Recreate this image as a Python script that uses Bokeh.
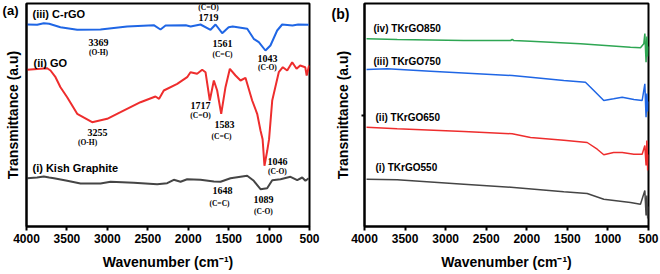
from bokeh.plotting import figure
from bokeh.layouts import row
from bokeh.models import Range1d, FixedTicker, Label
from bokeh.embed import file_html
from bokeh.resources import INLINE

# ---------------- Panel (a) data: wavenumber (cm-1) and transmittance (a.u.) ----------------
crgo_w = [3990, 3868, 3786, 3720, 3580, 3373, 3085, 2755, 2426, 2343, 2280, 2030, 1970, 1848,
          1724, 1662, 1580, 1500, 1450, 1270, 1190, 1127, 1045, 983, 900, 838, 710, 640, 510]
crgo_t = [202, 201.7, 203.3, 202.7, 199.3, 196.7, 197, 200, 201.3, 197, 201, 201.3, 200, 202,
          196.7, 202, 193.3, 199.3, 200, 197.7, 187.7, 184.3, 176, 181, 196, 202, 201, 202, 201.7]

go_w = [3990, 3827, 3744, 3703, 3641, 3580, 3497, 3373, 3188, 3002, 2837, 2590, 2405, 2360,
        2302, 2136, 2013, 1972, 1890, 1827, 1786, 1733, 1683, 1642, 1592, 1539, 1485, 1415,
        1353, 1292, 1209, 1147, 1106, 1080, 1057, 1023, 1000, 961, 880, 830, 776, 714, 660,
        615, 553, 535, 505]
go_t = [156.7, 157.7, 158.3, 156, 149.3, 139.3, 129.3, 112.7, 104.3, 107.7, 114.3, 124.3, 130, 127.7,
        136, 142.7, 149.3, 154.3, 152.7, 156.7, 154.3, 126, 146, 136, 112.7, 139.3, 157.7, 151,
        146, 148.7, 126, 112.7, 96, 87.3, 60.7, 75.7, 87.3, 126, 154.3, 159.3, 156, 164.3, 157.7,
        161, 159.3, 151, 161]

kish_w = [3990, 3870, 3786, 3720, 3660, 3497, 3332, 3085, 2960, 2673, 2384, 2260, 2178, 2095,
          2013, 1848, 1683, 1600, 1477, 1271, 1189, 1106, 1024, 961, 858, 735, 652, 590, 550, 510]
kish_t = [48.3, 49, 50, 49, 48.3, 45.7, 43, 43, 44.7, 43.7, 42.3, 43.3, 46.7, 44.7,
          47.3, 46.7, 45, 44.7, 48.3, 50.7, 45.7, 37.3, 38.3, 46.3, 47.3, 49.7, 46.3, 49, 45.7, 48.3]

# ---------------- Panel (b) data ----------------
tk850_w = [3975, 3597, 2776, 2200, 2180, 2160, 1954, 1338, 722, 599, 558, 545, 530, 520, 510, 505]
tk850_t = [187.7, 187, 186, 186, 187, 186, 185.3, 182.7, 179.3, 178.7, 182.7, 193, 164.3, 190, 170, 180]

tk750_w = [3975, 3720, 3187, 2180, 1954, 1544, 1277, 1174, 1051, 930, 824, 680, 578, 545, 530, 520, 510, 505]
tk750_t = [157, 157.7, 155.3, 151, 149.3, 146, 144.3, 136, 126, 127.7, 129.3, 127, 126, 142.7, 109.3, 133, 115, 125]

tk650_w = [3975, 3597, 2776, 2180, 1954, 1544, 1256, 1132, 1051, 930, 824, 680, 578, 545, 530, 520, 510, 505]
tk650_t = [99.3, 97.7, 95, 92.7, 89, 86.3, 84, 77.3, 71.7, 74, 74, 72.3, 72.3, 81, 61, 86, 56, 72]

tk550_w = [3975, 3597, 2776, 2160, 1544, 1256, 1051, 722, 599, 545, 530, 520, 510, 505]
tk550_t = [47.3, 46.7, 42.3, 39, 34.7, 33, 27.3, 24, 22.3, 36, 11, 31, 8, 20]

x_ticks = [4000, 3500, 3000, 2500, 2000, 1500, 1000, 500]

# Panel tags placed as y-axis tick labels
tag_a_pos = 216
tag_b_pos = 213
tick_b_pos = 111

# Peak annotations (panel a): text, wavenumber, transmittance
peak_txt = ["(C=O)", "1719", "1561", "(C=C)", "1043", "(C-O)", "3369", "(O-H)",
            "3255", "(O-H)", "1717", "(C=O)", "1583", "(C=C)", "1046", "(C-O)",
            "1648", "(C=C)", "1089", "(C-O)"]
peak_w = [1749, 1749, 1576, 1576, 1020, 1020, 3110, 3110,
          3122, 3245, 1848, 1848, 1551, 1588, 896, 896,
          1576, 1613, 1069, 1069]
peak_t = [219, 209, 183, 172, 168, 159, 184, 174,
          94, 84, 121, 111, 102, 90, 65, 55,
          36, 23, 27, 15]

BLUE = "#1f66e5"
RED = "#ee2d2d"
GRAY = "#454545"
GREEN = "#2ea653"

SANS = "Liberation Sans"
SERIF = "Liberation Serif"


def make_fig(left, right):
    p = figure(width=330, height=274, output_backend="svg", toolbar_location=None,
               x_range=Range1d(4000, 500), y_range=Range1d(0, 223),
               min_border_left=left, min_border_right=right, min_border_top=3,
               min_border_bottom=48)
    p.xgrid.visible = False
    p.ygrid.visible = False
    p.outline_line_color = "black"
    p.outline_line_width = 2
    p.outline_line_alpha = 1
    xa = p.xaxis[0]
    xa.ticker = FixedTicker(ticks=x_ticks)
    xa.major_tick_out = 4
    xa.major_tick_in = 0
    xa.minor_tick_out = 0
    xa.minor_tick_in = 0
    xa.major_tick_line_width = 2
    xa.axis_line_width = 2
    xa.major_label_text_font = SANS
    xa.major_label_text_font_style = "bold"
    xa.major_label_text_font_size = "12px"
    xa.major_label_text_color = "black"
    xa.major_label_standoff = 3
    xa.axis_label = "Wavenumber (cm\u207b\u00b9)"
    xa.axis_label_text_font = SANS
    xa.axis_label_text_font_style = "bold"
    xa.axis_label_text_font_size = "14px"
    xa.axis_label_text_color = "black"
    xa.axis_label_standoff = 8
    ya = p.yaxis[0]
    ya.axis_line_width = 2
    ya.major_tick_out = 0
    ya.major_tick_in = 0
    ya.minor_tick_in = 0
    ya.major_label_text_font = SANS
    ya.major_label_text_font_style = "bold"
    ya.major_label_text_color = "black"
    ya.major_label_orientation = "horizontal"
    ya.axis_label = "Transmittance (a.u)"
    ya.axis_label_text_font = SANS
    ya.axis_label_text_font_style = "bold"
    ya.axis_label_text_font_size = "14px"
    ya.axis_label_text_color = "black"
    return p


# ---------------- Panel (a) ----------------
pa = make_fig(26, 21)
pa.yaxis[0].ticker = FixedTicker(ticks=[tag_a_pos])
pa.yaxis[0].major_label_overrides = {tag_a_pos: "(a)"}
pa.yaxis[0].major_label_text_font_size = "13px"
pa.yaxis[0].minor_tick_out = 0
pa.yaxis[0].major_label_standoff = 8
pa.yaxis[0].axis_label_standoff = -21

pa.line(crgo_w, crgo_t, line_color=BLUE, line_width=2)
pa.line(go_w, go_t, line_color=RED, line_width=2)
pa.line(kish_w, kish_t, line_color=GRAY, line_width=2)

for txt, w, t in zip(peak_txt, peak_w, peak_t):
    big = not txt.startswith("(")
    pa.add_layout(Label(x=w, y=t, text=txt, text_align="center", text_baseline="middle",
                        text_font=SERIF, text_font_style="bold",
                        text_font_size="10px" if big else "7.5px", text_color="black"))

for txt, w, t in [("(iii) C-rGO", 3926, 213), ("(ii)  GO", 3913, 164), ("(i) Kish Graphite", 3926, 59)]:
    pa.add_layout(Label(x=w, y=t, text=txt, text_align="left", text_baseline="middle",
                        text_font=SANS, text_font_style="bold", text_font_size="11px",
                        text_color="black"))

# ---------------- Panel (b) ----------------
pb = make_fig(34, 12)
pb.yaxis[0].ticker = FixedTicker(ticks=[tag_b_pos], minor_ticks=[tick_b_pos])
pb.yaxis[0].major_label_overrides = {tag_b_pos: "(b)"}
pb.yaxis[0].major_label_text_font_size = "14px"
pb.yaxis[0].minor_tick_out = 3
pb.yaxis[0].minor_tick_line_width = 2
pb.yaxis[0].minor_tick_line_color = "black"
pb.yaxis[0].major_label_standoff = 12
pb.yaxis[0].axis_label_standoff = -22

pb.line(tk850_w, tk850_t, line_color=GREEN, line_width=1.5)
pb.line(tk750_w, tk750_t, line_color=BLUE, line_width=1.5)
pb.line(tk650_w, tk650_t, line_color=RED, line_width=1.5)
pb.line(tk550_w, tk550_t, line_color=GRAY, line_width=1.5)

for txt, w, t in [("(iv) TKrGO850", 3889, 198), ("(iii)  TKrGO750", 3889, 165),
                  ("(ii) TKrGO650", 3864, 109), ("(i) TKrGO550", 3864, 59)]:
    pb.add_layout(Label(x=w, y=t, text=txt, text_align="left", text_baseline="middle",
                        text_font=SANS, text_font_style="bold", text_font_size="10px",
                        text_color="black"))

layout = row(pa, pb)
open("out.html", "w").write(file_html(layout, INLINE))
